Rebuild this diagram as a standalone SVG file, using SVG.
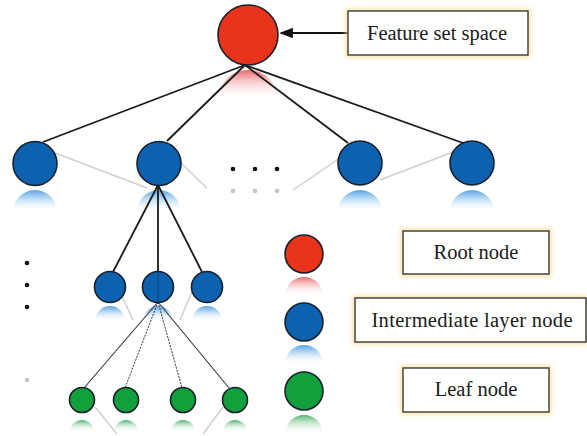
<svg xmlns="http://www.w3.org/2000/svg" width="587" height="436" viewBox="0 0 587 436">
  <style>
    .edge { stroke: #1a1a1a; stroke-width: 1.8; fill: none; }
    .thin { stroke: #333; stroke-width: 1.1; fill: none; }
    .dash { stroke: #333; stroke-width: 1; stroke-dasharray: 2 1.2; fill: none; }
    .ghost { stroke: #cfcfcf; stroke-width: 1.5; fill: none; }
    .node { stroke: #14202c; stroke-width: 1.6; }
    .root { fill: #e8341c; }
    .mid { fill: #0d62b0; }
    .leaf { fill: #12a03c; }
    .box { fill: #ffffff; stroke: #3a3a3a; stroke-width: 1.4; }
    .glow { fill: none; stroke: #f7dc8a; stroke-width: 5; opacity: 0.8; filter: url(#soft); }
    .label { font-family: "Liberation Serif", "Times New Roman", serif; font-size: 20.5px; fill: #1a1a1a; text-anchor: middle; }
    .dot { fill: #111; }
    .gdot { fill: #c4c4c4; }
  </style>
  <defs>
    <filter id="soft" x="-20%" y="-50%" width="140%" height="200%">
      <feGaussianBlur stdDeviation="2"/>
    </filter>
    <linearGradient id="refBlue" x1="0" y1="0" x2="0" y2="1">
      <stop offset="0" stop-color="#4f9fe2" stop-opacity="0.95"/>
      <stop offset="0.35" stop-color="#8cc3ee" stop-opacity="0.7"/>
      <stop offset="1" stop-color="#ffffff" stop-opacity="0"/>
    </linearGradient>
    <linearGradient id="refRed" x1="0" y1="0" x2="0" y2="1">
      <stop offset="0" stop-color="#e8555a" stop-opacity="0.9"/>
      <stop offset="0.35" stop-color="#f09a9c" stop-opacity="0.6"/>
      <stop offset="1" stop-color="#ffffff" stop-opacity="0"/>
    </linearGradient>
    <linearGradient id="refGreen" x1="0" y1="0" x2="0" y2="1">
      <stop offset="0" stop-color="#3aa85a" stop-opacity="0.9"/>
      <stop offset="0.35" stop-color="#8fcfa0" stop-opacity="0.6"/>
      <stop offset="1" stop-color="#ffffff" stop-opacity="0"/>
    </linearGradient>
    <marker id="arrow" viewBox="0 0 10 10" refX="9" refY="5" markerWidth="6" markerHeight="6" orient="auto" markerUnits="strokeWidth">
      <path d="M0,1 L10,5 L0,9 Z" fill="#111"/>
    </marker>
  </defs>

  <!-- reflections beneath nodes -->
  <g id="reflections">
    <path d="M218,100 A30,30 0 0 1 278,100 Z" fill="url(#refRed)"/>
    <path d="M13,212 A22,22 0 0 1 57,212 Z" fill="url(#refBlue)"/>
    <path d="M137,212 A22,22 0 0 1 181,212 Z" fill="url(#refBlue)"/>
    <path d="M338,212 A22,22 0 0 1 382,212 Z" fill="url(#refBlue)"/>
    <path d="M450,212 A22,22 0 0 1 494,212 Z" fill="url(#refBlue)"/>
    <path d="M95,321 A15,15 0 0 1 125,321 Z" fill="url(#refBlue)"/>
    <path d="M143,321 A15,15 0 0 1 173,321 Z" fill="url(#refBlue)"/>
    <path d="M192,321 A15,15 0 0 1 222,321 Z" fill="url(#refBlue)"/>
    <path d="M70,432 A12,12 0 0 1 94,432 Z" fill="url(#refGreen)"/>
    <path d="M114,432 A12,12 0 0 1 138,432 Z" fill="url(#refGreen)"/>
    <path d="M171,432 A12,12 0 0 1 195,432 Z" fill="url(#refGreen)"/>
    <path d="M223,432 A12,12 0 0 1 247,432 Z" fill="url(#refGreen)"/>
    <path d="M285,296 A19,19 0 0 1 323,296 Z" fill="url(#refRed)"/>
    <path d="M285,364 A19,19 0 0 1 323,364 Z" fill="url(#refBlue)"/>
    <path d="M285,434 A19,19 0 0 1 323,434 Z" fill="url(#refGreen)"/>
  </g>

  <!-- connectors -->
  <g id="connectors">
    <line class="ghost" x1="55" y1="153" x2="147" y2="188"/>
    <line class="ghost" x1="181" y1="163" x2="207" y2="188"/>
    <line class="ghost" x1="337" y1="160" x2="293" y2="190"/>
    <line class="ghost" x1="380" y1="180" x2="453" y2="152"/>
    <line class="ghost" x1="113" y1="277" x2="133" y2="320"/>
    <line class="ghost" x1="197" y1="280" x2="180" y2="320"/>
    <line class="ghost" x1="95" y1="407" x2="117" y2="434"/>
    <line class="ghost" x1="223" y1="407" x2="203" y2="434"/>

    <line class="edge" x1="245" y1="65" x2="43" y2="142"/>
    <line class="edge" x1="245" y1="65" x2="167" y2="141"/>
    <line class="edge" x1="245" y1="65" x2="348" y2="143"/>
    <line class="edge" x1="245" y1="65" x2="463" y2="143"/>

    <line class="edge" x1="158" y1="185" x2="113" y2="272"/>
    <line class="edge" x1="158" y1="185" x2="158" y2="287"/>
    <line class="edge" x1="158" y1="185" x2="202" y2="272"/>

    <line class="thin" x1="158" y1="302" x2="84" y2="388"/>
    <line class="dash" x1="158" y1="302" x2="125" y2="388"/>
    <line class="dash" x1="158" y1="302" x2="182" y2="388"/>
    <line class="thin" x1="158" y1="302" x2="229" y2="388"/>

    <line x1="348" y1="33" x2="281" y2="33" stroke="#f7dc8a" stroke-width="6" opacity="0.6" filter="url(#soft)"/>
    <line x1="348" y1="33" x2="281" y2="33" stroke="#111" stroke-width="2.2" marker-end="url(#arrow)"/>
  </g>

  <!-- tree nodes -->
  <g id="root"><circle class="node root" cx="248" cy="35" r="30"/></g>
  <g id="mid-1"><circle class="node mid" cx="35" cy="163.5" r="22"/></g>
  <g id="mid-2"><circle class="node mid" cx="159" cy="163.5" r="22"/></g>
  <g id="mid-3"><circle class="node mid" cx="360" cy="163" r="22"/></g>
  <g id="mid-4"><circle class="node mid" cx="472" cy="163" r="22"/></g>
  <g id="mid-2-1"><circle class="node mid" cx="110" cy="287" r="15.5"/></g>
  <g id="mid-2-2"><circle class="node mid" cx="158" cy="287" r="15.5"/></g>
  <g id="mid-2-3"><circle class="node mid" cx="207" cy="287" r="15.5"/></g>
  <g id="leaf-1"><circle class="node leaf" cx="82" cy="400" r="12.5"/></g>
  <g id="leaf-2"><circle class="node leaf" cx="126" cy="400" r="12.5"/></g>
  <g id="leaf-3"><circle class="node leaf" cx="183" cy="400" r="12.5"/></g>
  <g id="leaf-4"><circle class="node leaf" cx="235" cy="400" r="12.5"/></g>
  <line x1="158" y1="272" x2="158" y2="301" stroke="#0a3f70" stroke-width="1"/>

  <!-- ellipsis dots -->
  <g id="ellipsis">
    <circle class="dot" cx="233" cy="169" r="2.3"/>
    <circle class="dot" cx="255" cy="169" r="2.3"/>
    <circle class="dot" cx="277" cy="169" r="2.3"/>
    <circle class="gdot" cx="233" cy="191" r="2.3"/>
    <circle class="gdot" cx="255" cy="191" r="2.3"/>
    <circle class="gdot" cx="277" cy="191" r="2.3"/>
    <circle class="dot" cx="27" cy="263" r="2.3"/>
    <circle class="dot" cx="27" cy="285" r="2.3"/>
    <circle class="dot" cx="27" cy="307" r="2.3"/>
    <circle class="gdot" cx="27" cy="380" r="2.3"/>
  </g>

  <!-- caption box -->
  <g id="feature-set-space">
    <rect class="glow" x="348" y="11" width="180" height="44"/>
    <rect class="box" x="348" y="11" width="180" height="44"/>
    <text class="label" x="437" y="40">Feature set space</text>
  </g>

  <!-- legend -->
  <g id="legend-root">
    <circle class="node root" cx="304" cy="254" r="19"/>
    <rect class="glow" x="403" y="231" width="146" height="43"/>
    <rect class="box" x="403" y="231" width="146" height="43"/>
    <text class="label" x="476" y="259">Root node</text>
  </g>
  <g id="legend-mid">
    <circle class="node mid" cx="304" cy="322" r="19"/>
    <rect class="glow" x="355" y="298" width="231" height="44"/>
    <rect class="box" x="355" y="298" width="231" height="44"/>
    <text class="label" x="472" y="327" textLength="201">Intermediate layer node</text>
  </g>
  <g id="legend-leaf">
    <circle class="node leaf" cx="304" cy="391" r="19"/>
    <rect class="glow" x="403" y="368" width="146" height="44"/>
    <rect class="box" x="403" y="368" width="146" height="44"/>
    <text class="label" x="476" y="396">Leaf node</text>
  </g>
</svg>
